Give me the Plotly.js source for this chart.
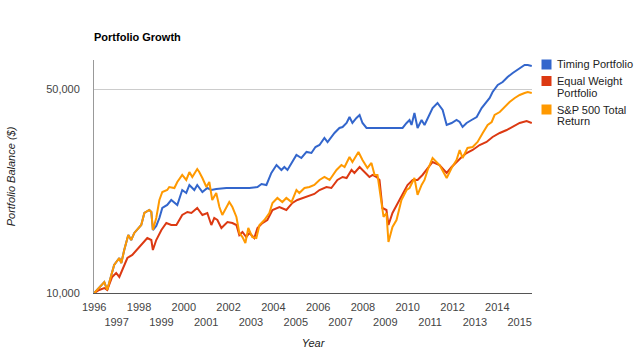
<!DOCTYPE html>
<html>
<head>
<meta charset="utf-8">
<script src="https://cdn.plot.ly/plotly-3.0.1.min.js"></script>
<style>
  html, body { margin: 0; padding: 0; background: #fff; }
  #chart { width: 640px; height: 353px; }
</style>
</head>
<body>
<div id="chart"></div>
<script>
// ---- Data ----
const chartTitle = "Portfolio Growth";
const xTitle = "Year";
const yTitle = "Portfolio Balance ($)";
const seriesNames = ["Timing Portfolio", "Equal Weight Portfolio", "S&P 500 Total Return"];
const legendLines = [["Timing Portfolio"], ["Equal Weight", "Portfolio"], ["S&P 500 Total", "Return"]];
const seriesColors = ["#3366cc", "#dc3912", "#ff9900"];

const yearTicks = [1996,1997,1998,1999,2000,2001,2002,2003,2004,2005,2006,2007,2008,2009,2010,2011,2012,2013,2014,2015];
const yTickVals = [10000, 50000];
const yTickText = ["10,000", "50,000"];

const timingX = [1996.0,1996.45,1996.58,1996.89,1997.12,1997.21,1997.34,1997.52,1997.65,1997.79,
  1998.10,1998.24,1998.46,1998.55,1998.62,
  1998.77,1998.91,1999.04,1999.26,1999.44,1999.71,1999.93,2000.11,2000.25,2000.47,
  2000.60,2000.83,2001.05,2001.23,2001.45,2001.90,2002.48,2002.93,2003.29,2003.47,
  2003.69,2003.91,2004.14,2004.36,2004.49,2004.63,2005.03,2005.25,2005.48,2005.70,
  2005.88,2006.06,2006.28,2006.42,2006.73,2006.95,2007.09,2007.27,2007.40,2007.53,
  2007.71,2007.85,2007.98,2008.16,2008.61,2009.19,2009.77,2009.95,2010.08,2010.17,
  2010.30,2010.44,2010.62,2010.75,2010.89,2011.11,2011.33,2011.56,2011.74,2011.96,
  2012.18,2012.32,2012.45,2012.63,2012.85,2013.08,2013.30,2013.52,2013.66,2013.79,
  2014.02,2014.24,2014.46,2014.69,2014.91,2015.09,2015.22,2015.36,2015.54];
const timingY = [10000,10900,10240,12470,13180,12670,14040,15800,15190,16060,
  17100,18800,19250,18950,16440,
  16970,18070,19560,20030,20830,20030,22540,22020,23450,22540,
  23450,22190,22900,22540,22720,22900,22900,22900,23080,23640,
  23450,25780,27460,26400,27030,26400,29720,29020,30430,30190,
  31650,32150,33980,32920,35350,36770,37060,38250,40100,38250,
  39790,40740,38250,36770,36770,36770,36770,38250,39160,37650,
  41390,36770,39160,37650,39790,43050,44790,42380,37650,38250,
  39160,38550,37060,38250,39160,40100,43050,45140,46590,48850,
  51630,52860,54990,56760,58110,59500,60450,60450,59980];

const equalX = [1996.0,1996.22,1996.45,1996.58,1996.80,1996.98,1997.12,1997.25,1997.48,1997.70,
  1998.01,1998.37,1998.55,1998.62,1998.77,1999.00,1999.22,1999.44,1999.67,1999.93,
  2000.16,2000.34,2000.60,2000.83,2001.05,2001.23,2001.36,2001.50,2001.68,2001.81,
  2001.95,2002.17,2002.35,2002.48,2002.62,2002.79,2002.93,2003.15,2003.29,2003.51,
  2003.73,2003.96,2004.27,2004.58,2004.85,2005.07,2005.30,2005.61,2005.83,2006.06,
  2006.37,2006.59,2006.86,2007.09,2007.27,2007.49,2007.62,2007.85,2008.07,2008.29,
  2008.43,2008.61,2008.74,2008.87,2009.05,2009.14,2009.32,2009.55,2009.77,2009.99,
  2010.22,2010.44,2010.66,2010.89,2011.11,2011.42,2011.74,2011.96,2012.18,2012.41,
  2012.63,2012.90,2013.21,2013.52,2013.79,2014.11,2014.42,2014.69,2015.00,2015.31,
  2015.54];
const equalY = [10000,10240,10400,10240,11350,11710,11350,11990,13180,13500,
  14380,15430,15190,14040,15190,16440,17370,17100,17100,18510,
  18950,18800,19560,18510,18800,17100,18070,17790,16700,17100,
  17510,17370,17100,15800,16180,15550,16060,15430,16700,17370,
  17790,19250,19710,19250,20350,20830,21170,21510,21850,22540,
  23080,22900,24400,24980,24780,26400,25780,27030,25980,24980,
  25380,24980,24400,19560,19250,17100,18800,20350,22020,23450,
  24400,24400,25380,26820,28120,27460,25780,27030,28120,29250,
  30190,30910,32150,32920,34250,35350,36190,37060,38250,38850,
  38250];

const spX = [1996.0,1996.45,1996.58,1996.89,1997.12,1997.21,1997.34,1997.52,1997.65,1997.79,
  1998.10,1998.24,1998.46,1998.55,1998.62,1998.77,1998.91,1999.04,1999.26,1999.35,
  1999.58,1999.71,1999.93,2000.11,2000.25,2000.38,2000.60,2000.69,2000.83,2001.01,
  2001.14,2001.27,2001.45,2001.59,2001.72,2001.90,2002.03,2002.17,2002.35,2002.48,
  2002.62,2002.75,2002.88,2003.06,2003.24,2003.38,2003.60,2003.82,2003.96,2004.18,
  2004.40,2004.58,2004.81,2005.03,2005.16,2005.39,2005.61,2005.83,2006.06,2006.28,
  2006.51,2006.82,2007.04,2007.18,2007.40,2007.53,2007.80,2007.98,2008.20,2008.38,
  2008.52,2008.65,2008.83,2008.92,2009.05,2009.14,2009.32,2009.50,2009.72,2009.95,
  2010.08,2010.30,2010.44,2010.62,2010.75,2010.89,2011.11,2011.42,2011.74,2011.96,
  2012.18,2012.32,2012.45,2012.67,2012.90,2013.12,2013.35,2013.57,2013.75,2013.88,
  2014.11,2014.33,2014.55,2014.78,2015.00,2015.22,2015.36,2015.54];
const spY = [10000,10900,10240,12470,13180,12670,14040,15800,15190,16060,
  17100,18800,19250,18950,16440,18070,20830,22190,22540,23080,
  22900,24010,25380,24400,25980,24980,26600,25980,24780,23080,
  24010,20830,22020,19710,18510,19710,20500,19710,18220,16060,
  15550,14840,16700,15550,15430,17100,17790,18800,20350,21170,
  20500,21170,20500,22540,22020,22900,23080,23450,24400,24980,
  24400,26400,27460,27030,29250,28120,30430,28560,26820,27900,
  25380,25380,20350,18220,18800,14950,16840,17790,20830,22540,
  22900,24780,21680,23450,24400,26400,29020,27460,24780,26820,
  28560,30910,29020,31410,31650,32920,35350,37650,38550,40740,
  41710,43390,45140,46590,47700,48470,48850,48470];

// ---- Chart ----
const FONT = "'Liberation Sans', Arial, sans-serif";
const W = 640, H = 353;
const M = {l: 94, r: 108, t: 60, b: 60};
const PW = W - M.l - M.r, PH = H - M.t - M.b;
const px2x = p => (p - M.l) / PW;
const px2y = p => (H - M.b - p) / PH;

const xs = [timingX, equalX, spX];
const ys = [timingY, equalY, spY];
const traces = seriesNames.map((n, i) => ({
  type: 'scatter', mode: 'lines', name: n, x: xs[i], y: ys[i],
  line: {color: seriesColors[i], width: 2}, hoverinfo: 'x+y+name'
}));

const tickText = yearTicks.map((y, i) => i % 2 === 0 ? String(y) : ' <br>' + y);

const shapes = [];
const annotations = [];
const legendRowY = [64.5, 81, 109.5];
const lineStep = 11.5;
legendLines.forEach((lines, i) => {
  const cy = legendRowY[i];
  shapes.push({type: 'rect', xref: 'paper', yref: 'paper',
    x0: px2x(541.5), x1: px2x(551.5), y0: px2y(cy - 5), y1: px2y(cy + 5),
    fillcolor: seriesColors[i], line: {width: 0}});
  lines.forEach((t, j) => {
    annotations.push({xref: 'paper', yref: 'paper', x: px2x(555), y: px2y(cy + j * lineStep),
      xanchor: 'left', yanchor: 'middle', text: t, showarrow: false,
      font: {family: FONT, size: 11, color: '#222'}});
  });
});

const layout = {
  width: W, height: H, margin: M,
  paper_bgcolor: '#fff', plot_bgcolor: '#fff',
  showlegend: false,
  title: {text: '<b>' + chartTitle + '</b>', xref: 'container', yref: 'container',
    x: 94 / W, xanchor: 'left', y: 1 - 37 / H, yanchor: 'middle',
    font: {family: FONT, size: 11, color: '#000'}},
  xaxis: {
    range: [1995.99, 2015.55], tickmode: 'array', tickvals: yearTicks, ticktext: tickText,
    tickangle: 0,
    showgrid: false, zeroline: false, showline: true, linecolor: '#555', linewidth: 1,
    ticks: '', ticklabelstandoff: 4,
    tickfont: {family: FONT, size: 11, color: '#444'},
    title: {text: xTitle, standoff: 12, font: {family: FONT, size: 11, color: '#222', style: 'italic'}},
    fixedrange: true
  },
  yaxis: {
    type: 'log', range: [4, 4.7985], tickmode: 'array', tickvals: yTickVals, ticktext: yTickText,
    showgrid: true, gridcolor: '#cccccc', gridwidth: 1, zeroline: false,
    showline: true, linecolor: '#999', linewidth: 1, ticks: '', ticklabelstandoff: 11,
    tickfont: {family: FONT, size: 11, color: '#444'},
    title: {text: yTitle, standoff: 28, font: {family: FONT, size: 11, color: '#222', style: 'italic'}},
    fixedrange: true
  },
  shapes: shapes,
  annotations: annotations
};

Plotly.newPlot('chart', traces, layout, {displayModeBar: false, staticPlot: true});
</script>
</body>
</html>
